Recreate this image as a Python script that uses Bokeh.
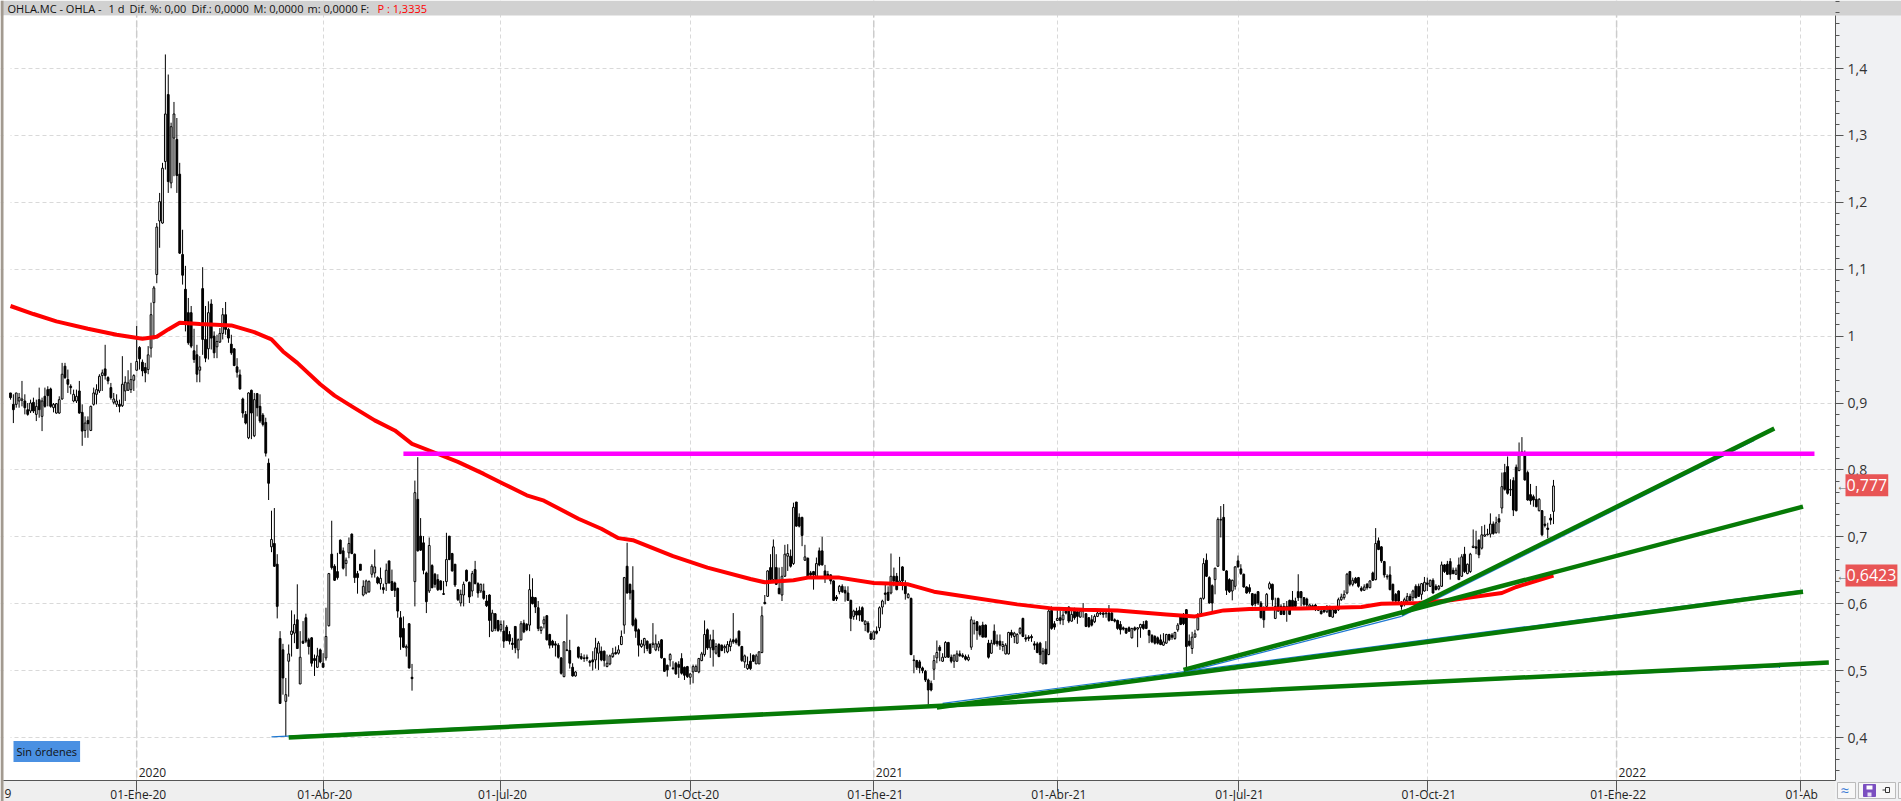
from bokeh.plotting import figure
from bokeh.models import ColumnDataSource, FixedTicker, BoxAnnotation, Label, Span
from bokeh.embed import file_html
from bokeh.resources import INLINE
import numpy as np

# Daily candles, values in thousandths of a euro
opens_m = [
915,898,898,903,904,903,890,888,901,883,
905,880,910,920,921,893,885,885,906,955,
935,925,903,903,918,886,859,874,859,898,
913,918,941,951,938,923,901,898,898,896,
918,919,920,934,949,983,961,953,950,982,
1050,1092,1172,1169,1261,1361,1229,1296,1294,1242,
1122,1070,1035,1035,978,972,949,1071,995,981,
1048,1000,984,991,1004,1032,1010,988,981,954,
942,906,883,848,919,851,914,895,882,871,
810,685,690,659,548,531,454,514,554,556,
576,480,544,579,546,549,518,505,531,511,
519,567,674,656,648,695,679,660,676,704,
674,645,659,613,616,618,644,646,639,630,
624,630,664,633,631,623,579,563,534,570,
490,633,756,701,691,646,619,657,644,636,
634,615,633,701,675,659,621,601,613,650,
632,619,651,630,619,619,604,613,559,585,
575,561,559,565,554,541,566,531,546,571,
569,568,610,609,594,560,570,582,554,544,
540,538,519,491,531,530,505,492,535,521,
519,520,514,516,516,526,529,529,506,510,
521,527,526,539,568,656,629,620,576,561,
536,538,544,539,539,531,535,546,518,508,
516,504,511,509,518,505,506,490,498,499,
498,515,524,561,534,546,526,539,538,534,
528,536,546,546,559,536,513,503,514,523,
510,510,527,602,611,654,636,654,623,613,
641,671,671,660,752,729,729,665,668,646,
648,641,679,679,649,644,643,634,610,618,
626,620,616,605,581,589,590,594,569,571,
555,547,559,564,595,616,617,616,641,641,
631,655,629,609,608,516,515,513,504,499,
486,481,502,519,535,514,520,542,520,514,
514,525,523,521,516,535,571,573,566,568,
568,541,526,559,544,544,536,525,525,557,
551,541,556,578,549,550,551,540,540,541,
510,532,524,590,570,575,579,576,589,595,
574,591,588,580,590,585,579,576,573,581,
585,586,585,586,586,576,575,569,564,563,
564,549,564,562,564,569,574,560,553,551,
549,546,538,541,554,553,548,561,583,584,
591,544,533,550,561,585,608,665,639,627,
636,656,725,729,649,636,619,626,664,652,
644,625,624,615,614,618,601,591,596,623,
629,578,608,596,596,593,605,605,604,618,
618,609,607,595,597,598,590,589,591,588,
596,580,591,591,606,609,616,648,629,638,
639,623,620,629,624,646,636,694,685,663,
640,643,629,614,619,600,599,604,611,609,
626,626,614,619,631,626,635,626,622,626,
658,659,663,650,644,658,641,674,645,648,
684,685,695,683,701,703,704,719,706,727,
743,796,805,770,784,804,799,826,826,796,
763,760,756,739,739,719,713,728,738]
highs_m = [
915,913,915,915,933,913,900,905,908,905,
923,908,923,925,923,900,900,910,960,960,
950,928,920,920,933,898,880,880,896,923,
928,943,950,987,940,930,915,913,905,970,
940,949,960,943,1015,985,965,960,985,1050,
1075,1169,1214,1259,1421,1391,1319,1350,1326,1259,
1159,1105,1057,1045,1011,987,970,1103,1045,1052,
1055,1007,1002,1012,1042,1051,1012,1002,982,967,
950,908,888,916,920,915,915,913,885,878,
817,739,743,674,559,540,489,539,590,584,
629,559,574,585,549,550,524,534,533,526,
594,646,724,659,676,696,684,669,699,705,
675,649,659,635,636,635,659,681,641,654,
630,660,664,651,633,624,589,581,539,571,
510,784,819,728,701,648,699,659,646,644,
635,634,706,701,676,659,621,621,633,651,
633,649,664,632,630,630,613,614,591,586,
575,575,575,568,559,549,566,548,574,576,
571,644,638,610,604,566,581,583,555,546,
544,541,520,544,584,546,511,499,536,526,
524,524,516,529,549,544,536,530,524,524,
534,536,538,560,640,691,630,656,579,563,
546,549,545,541,571,554,544,547,519,509,
526,514,513,514,526,506,507,496,509,509,
519,528,575,563,554,561,541,541,539,539,
544,548,586,549,560,537,524,521,526,524,
525,529,596,613,650,674,696,674,654,655,
688,689,681,751,752,735,730,688,669,649,
649,669,684,700,658,649,644,635,613,628,
629,626,626,606,591,594,596,596,575,574,
559,560,566,596,606,631,626,675,654,646,
670,656,635,616,609,523,516,516,506,501,
488,485,523,545,538,526,544,543,524,524,
530,530,526,524,524,581,576,574,568,573,
569,546,546,569,554,554,544,541,558,561,
558,556,565,579,554,553,554,544,543,543,
534,544,594,596,574,590,590,589,595,596,
590,594,591,593,601,586,580,583,584,588,
589,591,589,598,588,578,576,574,566,564,
566,564,566,565,570,574,575,561,554,553,
551,554,556,555,555,556,558,571,584,586,
592,554,558,561,586,609,668,675,641,629,
654,729,746,749,650,638,636,656,672,659,
645,626,629,616,615,619,604,596,616,633,
630,609,609,599,601,604,606,619,609,644,
619,610,609,600,599,600,596,591,595,598,
597,596,594,609,615,620,646,649,639,640,
640,626,629,631,635,648,713,699,686,664,
644,656,630,616,620,604,609,616,615,621,
629,630,631,640,639,636,638,629,628,663,
659,664,668,654,654,669,674,685,660,676,
711,709,696,716,718,712,735,723,730,734,
796,809,820,786,789,808,841,849,829,799,
779,763,776,758,740,731,721,734,785]
lows_m = [
905,870,893,893,895,883,881,885,885,873,
878,858,893,895,893,886,884,884,905,936,
915,913,901,900,884,836,848,848,858,896,
898,915,918,935,928,905,898,894,886,894,
903,918,915,918,948,950,940,931,943,968,
995,1079,1132,1168,1249,1214,1221,1239,1214,1123,
1077,1007,987,982,960,931,931,972,961,965,
980,967,967,990,995,1002,990,972,955,938,
920,878,868,846,846,849,880,870,865,820,
755,677,655,578,451,464,401,461,521,541,
533,480,540,541,524,506,492,504,511,505,
515,566,651,634,636,674,651,641,668,674,
631,615,650,611,614,616,639,639,629,621,
615,619,630,619,610,579,531,534,521,503,
470,596,678,679,644,586,616,623,624,619,
620,613,626,665,648,625,604,596,596,633,
601,611,629,609,616,606,595,550,558,559,
558,558,534,544,539,531,526,518,545,556,
559,559,599,586,559,555,563,545,533,534,
521,518,494,490,529,503,491,491,518,516,
513,514,506,500,503,501,514,506,505,508,
519,524,524,538,555,615,606,566,549,521,
534,526,529,525,534,529,529,518,498,491,
506,501,494,489,494,486,489,479,481,498,
496,514,521,531,519,506,524,520,529,526,
526,529,540,539,536,513,504,501,501,513,
510,510,526,599,610,631,635,628,614,604,
640,649,654,658,715,714,686,664,640,640,
621,639,656,657,631,639,629,604,604,614,
616,603,604,559,576,576,574,573,559,556,
546,546,554,559,584,599,604,614,626,620,
629,620,606,608,523,496,501,496,496,483,
449,469,486,511,514,513,519,519,511,504,
513,521,519,515,514,531,554,546,551,550,
550,518,525,538,536,531,529,524,524,549,
541,540,554,550,543,544,543,531,526,511,
510,510,523,561,561,574,569,568,584,571,
573,576,570,579,579,565,564,566,571,580,
583,579,579,573,574,572,561,554,560,555,
558,548,559,535,549,561,562,541,541,539,
539,538,537,540,544,546,546,558,568,568,
504,536,525,549,560,584,606,640,600,585,
614,655,699,649,613,616,605,621,654,643,
624,615,615,596,596,598,578,564,594,621,
596,577,588,583,583,573,583,593,595,604,
596,596,591,591,592,589,589,584,586,586,
580,579,585,589,604,606,614,626,626,630,
624,618,619,621,623,634,635,680,661,639,
636,620,601,601,601,591,596,601,604,604,
608,610,606,618,619,625,615,620,620,625,
646,643,636,644,643,636,640,646,644,646,
683,674,668,681,700,702,699,703,705,705,
735,769,763,761,731,738,798,824,784,754,
748,745,744,738,701,714,698,718,719]
closes_m = [
908,890,915,908,906,893,883,900,888,895,
890,903,895,911,895,898,899,905,943,938,
928,923,913,910,885,858,870,869,895,915,
920,940,945,941,933,908,906,903,895,928,
931,930,935,941,962,966,948,945,972,1032,
1072,1163,1201,1251,1332,1231,1313,1332,1240,1124,
1091,1022,990,985,965,943,954,995,967,1035,
997,975,992,1004,1032,1010,997,975,956,946,
921,885,870,915,885,905,893,873,868,825,
780,696,656,596,451,489,464,525,559,569,
533,520,541,544,536,511,515,522,513,505,
551,645,654,635,639,675,653,665,690,675,
639,639,650,626,634,633,656,655,631,638,
621,650,631,620,620,589,550,535,536,504,
488,766,679,680,650,603,687,624,629,621,
621,614,666,666,649,628,606,614,629,634,
610,645,630,616,629,608,597,575,586,563,
560,569,544,545,544,539,534,546,570,558,
561,621,600,595,563,565,576,546,538,538,
538,520,496,543,530,511,492,498,520,518,
518,518,512,513,534,541,516,515,511,522,
526,525,531,551,639,616,616,568,559,538,
540,548,533,526,541,540,540,519,499,501,
524,503,495,505,496,493,491,495,506,506,
518,525,554,534,546,531,536,521,530,536,
539,544,543,542,538,515,522,509,503,514,
522,528,582,600,649,636,685,629,615,641,
674,675,656,744,716,716,702,670,641,643,
643,660,658,658,641,641,634,605,607,626,
618,616,605,578,589,583,583,574,574,558,
547,558,556,594,604,614,605,641,634,621,
634,634,615,614,524,515,505,504,500,486,
471,471,515,527,530,520,542,520,514,523,
525,522,521,517,520,576,570,560,554,550,
550,520,541,540,540,538,539,538,557,553,
556,554,563,551,547,548,549,538,527,524,
529,510,589,563,565,578,575,583,586,574,
584,579,581,589,589,566,566,568,581,586,
586,584,586,575,575,574,563,561,562,556,
559,563,561,564,569,563,563,553,543,541,
541,539,543,554,546,550,557,568,569,570,
536,538,550,555,579,608,660,641,601,601,
653,726,726,650,620,618,635,655,655,645,
625,616,618,598,600,601,579,576,614,630,
606,596,589,584,584,596,584,594,596,609,
609,599,598,598,595,594,594,585,588,594,
581,591,586,606,610,614,644,629,635,631,
626,620,625,624,634,635,690,681,664,643,
641,621,605,604,604,596,606,611,605,619,
609,611,630,632,629,635,616,621,626,658,
648,644,644,645,650,636,670,648,659,674,
686,683,673,703,703,704,719,705,721,722,
775,771,765,771,740,739,826,827,785,755,
754,755,745,756,703,717,711,725,776]

# Moving average (bar number, thousandths of a euro)
ma_bar = [0,8,16,27,37,46,51,55,59,66,77,85,91,95,100,108,113,119,127,134,140,146,156,165,172,180,186,198,206,212,217,231,243,258,263,273,278,289,301,313,322,334,351,363,374,386,403,413,423,432,450,461,471,478,491,502,515,520,525,538]
ma_m = [1045,1033,1022,1011,1002,996,999,1010,1020,1018,1016,1006,995,977,960,928,911,895,874,859,839,829,812,794,779,762,754,727,712,698,695,671,654,637,632,635,639,639,631,629,618,610,599,593,591,590,584,581,590,592,593,594,595,600,601,605,613,616,625,642]

# Trend lines: (bar a, value a, bar b, value b)
green_a = [(97,0.400,634,0.512),(323,0.445,625,0.618),(409,0.501,625,0.745),(485,0.585,615,0.862)]
blue_a = [(91,0.401,617,0.506),(325,0.451,625,0.620),(409,0.497,485,0.581),(485,0.581,608,0.844)]
resistance = (137,629,0.824)

# Axis labels
price_ticks = [0.4,0.5,0.6,0.7,0.8,0.9,1.0,1.1,1.2,1.3,1.4]
price_labels = ["0,4","0,5","0,6","0,7","0,8","0,9","1","1,1","1,2","1,3","1,4"]
date_ticks = [44,109,171,237,301,365,428,494,560,624]
date_labels = ["01-Ene-20","01-Abr-20","01-Jul-20","01-Oct-20","01-Ene-21","01-Abr-21","01-Jul-21","01-Oct-21","01-Ene-22","01-Ab"]
year_ticks = [44,301,560]
year_labels = ["2020","2021","2022"]
last_price = 0.777
ma_last = 0.6423

FONT = "Open Sans"
o, h, l, c = [np.array(a) / 1000 for a in (opens_m, highs_m, lows_m, closes_m)]
bars = np.arange(len(o))
top, bot = np.maximum(o, c), np.minimum(o, c)
up = c >= o
BAR_PX = 2.868
W, H = 1901, 801
PLOT_L, PLOT_R, PLOT_T, PLOT_B = 3, 1835, 15, 780
def xval(px):
    return (px - 10) / BAR_PX
def yval(py):
    return 0.4 + (737 - py) / 669

p = figure(width=W, height=H, output_backend="svg", toolbar_location=None,
           x_range=(xval(0), xval(W)), y_range=(yval(H), yval(0)),
           y_axis_location="right", min_border=0, min_border_left=0, min_border_right=0,
           min_border_top=0, min_border_bottom=0,
           border_fill_color="#f0f1f3", background_fill_color="white", outline_line_color=None)
p.styles = {"position": "absolute", "left": "0px", "top": "0px"}

def sbox(a, b, t, bt, col, lc=None, level="underlay"):
    # a,b: px from the left; t,bt: px from the top
    p.add_layout(BoxAnnotation(left=a, right=b, top=H - t, bottom=H - bt, left_units="screen", right_units="screen",
                               top_units="screen", bottom_units="screen", fill_color=col, fill_alpha=1,
                               line_color=lc, line_alpha=1 if lc else 0, line_width=1, level=level))

def slabel(x, y, s, size="12px", col="#111111", **kw):
    # x,y: px from the left / top
    p.add_layout(Label(x=x, y=H - y, x_units="screen", y_units="screen", text=s, text_font=FONT, text_font_size=size,
                       text_color=col, text_baseline="middle", **kw))

# grid
p.xgrid[0].ticker = FixedTicker(ticks=date_ticks)
p.ygrid[0].ticker = FixedTicker(ticks=price_ticks)
for g in (p.xgrid[0], p.ygrid[0]):
    g.grid_line_color = "#d9d9d9"
    g.grid_line_dash = "4 3"
    g.grid_line_width = 1
for t in year_ticks:
    p.add_layout(Span(location=t, dimension="height", line_color="#cccccc", line_width=1.5,
                      line_dash="7 3", level="underlay"))

# panels around the plot area, above the grid
sbox(PLOT_R, W, 0, H, "#f0f1f3")
sbox(0, W, 0, PLOT_T, "#d1d1d1")
sbox(0, PLOT_R, PLOT_B, H, "#efefef")
sbox(PLOT_L, 10, PLOT_T, PLOT_B, "#ffffff")
sbox(0, PLOT_L, 0, H, "#a29a90")

# axes
xa, ya = p.xaxis[0], p.yaxis[0]
xa.fixed_location = yval(PLOT_B)
xa.bounds = (xval(PLOT_L), xval(PLOT_R))
xa.ticker = FixedTicker(ticks=date_ticks)
xa.major_label_overrides = {t: "\u00a0" + s for t, s in zip(date_ticks, date_labels)}
xa.major_label_text_align = "left"
xa.major_label_text_baseline = "middle"
xa.major_label_text_font = FONT
xa.major_label_text_font_size = "12px"
xa.major_label_text_color = "#222222"
xa.major_label_standoff = -6
xa.major_tick_out = 11
xa.major_tick_in = 0
xa.minor_tick_out = 0
xa.minor_tick_in = 0
xa.axis_line_color = "#555555"
xa.major_tick_line_color = "#555555"

ya.fixed_location = xval(PLOT_R)
ya.bounds = (yval(PLOT_B), yval(PLOT_T))
minor = [round(0.35 + i / 60, 4) for i in range(0, 70)]
ya.ticker = FixedTicker(ticks=price_ticks, minor_ticks=minor)
ya.major_label_overrides = dict(zip(price_ticks, price_labels))
ya.major_label_text_font = FONT
ya.major_label_text_font_size = "14px"
ya.major_label_text_color = "#333333"
ya.major_label_standoff = 4
ya.major_tick_out = 8
ya.major_tick_in = 0
ya.minor_tick_out = 4
ya.minor_tick_in = 0
ya.axis_line_color = "#555555"
ya.major_tick_line_color = "#555555"
ya.minor_tick_line_color = "#555555"

# candles
src_up = ColumnDataSource(dict(x=bars[up], o=o[up], c=c[up], h=h[up], l=l[up], t=top[up], b=bot[up]))
src_dn = ColumnDataSource(dict(x=bars[~up], o=o[~up], c=c[~up], h=h[~up], l=l[~up], t=top[~up], b=bot[~up]))
p.segment(x0=bars, x1=bars, y0=l, y1=h, line_color="#000000", line_width=1)
p.vbar(x="x", width=0.62, top="t", bottom="b", source=src_up, fill_color="white", line_color="#000000", line_width=1)
p.vbar(x="x", width=0.62, top="t", bottom="b", source=src_dn, fill_color="#000000", line_color="#000000", line_width=1)

# blue construction lines under the green ones
for (x0, y0, x1, y1) in blue_a:
    p.line([x0, x1], [y0, y1], line_color="#1e78d2", line_width=1.2)
p.line(ma_bar, np.array(ma_m) / 1000, line_color="#ff0000", line_width=4, line_join="round")
for (x0, y0, x1, y1) in green_a:
    p.line([x0, x1], [y0, y1], line_color="#067a06", line_width=4.5)
p.line([resistance[0], resistance[1]], [resistance[2], resistance[2]], line_color="#ff00ff", line_width=4.5)

# header
for x, s, col in [(7, "OHLA.MC - OHLA -", "#111111"), (108, "1 d", "#111111"), (129, "Dif. %: 0,00", "#111111"),
                  (191, "Dif.: 0,0000", "#111111"), (253, "M: 0,0000", "#111111"), (307, "m: 0,0000", "#111111"),
                  (360, "F:", "#111111"), (377, "P : 1,3335", "#ff0000")]:
    slabel(x, 8, s, size="11px", col=col)

# year labels
for t, s in zip(year_ticks, year_labels):
    p.add_layout(Label(x=t, x_offset=2, y=H - 772, y_units="screen", text=s, text_font=FONT, text_font_size="12px",
                       text_color="#222222", text_baseline="middle"))
# clipped first date label
slabel(4, 793, "9", col="#222222")

# orders badge
slabel(13, 751, "Sin órdenes", size="11px", background_fill_color="#4a90e2", padding=3)

# price badges
for val, s in [(last_price, "0,777"), (ma_last, "0,6423")]:
    p.add_layout(Label(x=1845, y=val, x_units="screen", text=s, text_font=FONT, text_font_size="16px",
                       text_color="white", text_baseline="middle", background_fill_color="#e85555", padding=(1, 5)))
    p.add_layout(Label(x=1836, y=val, x_units="screen", text="←", text_font=FONT, text_font_size="12px",
                       text_color="#666666", text_baseline="middle"))

# bottom-right buttons
sbox(1837, 1855, 782, 798, "#f7f7f7", "#bbbbbb", level="annotation")
sbox(1858, 1895, 782, 798, "#f7f7f7", "#bbbbbb", level="annotation")
sbox(1898, 1902, 782, 798, "#f7f7f7", "#bbbbbb", level="annotation")
sbox(1863, 1875, 784, 796, "#7b4fc0", "#7b4fc0", level="annotation")
sbox(1866, 1872, 785, 789, "#ffffff", None, level="annotation")
sbox(1867, 1871, 792, 796, "#e8e0f5", None, level="annotation")
sbox(1885, 1889, 787, 792, "#f7f7f7", "#333333", level="annotation")
sbox(1882, 1885, 789, 790, "#333333", None, level="annotation")
slabel(1840, 789, "≈", size="15px", col="#3a7bd5")

open("out.html", "w").write(file_html(p, INLINE))
